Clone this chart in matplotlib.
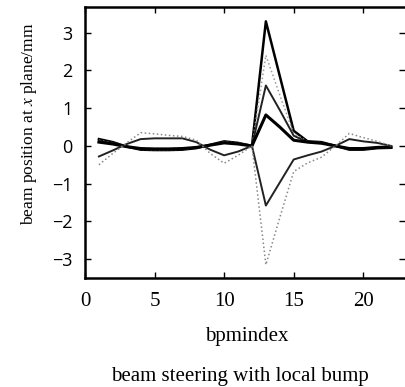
import numpy as np
import matplotlib.pyplot as plt

# bpm index 1..22
bpm = np.arange(1, 23)

# positive bumps at bpm 13
bump_33 = [0.18, 0.10, -0.02, -0.10, -0.11, -0.11, -0.10, -0.06, 0.03, 0.12, 0.08, 0.0,
           3.30, 1.85, 0.40, 0.12, 0.10, 0.0, -0.10, -0.10, -0.06, -0.05]
bump_24 = [0.15, 0.08, -0.02, -0.09, -0.10, -0.10, -0.09, -0.05, 0.03, 0.11, 0.07, 0.0,
           2.40, 1.35, 0.33, 0.11, 0.09, 0.0, -0.09, -0.09, -0.05, -0.04]
bump_16 = [0.13, 0.07, -0.02, -0.08, -0.09, -0.09, -0.08, -0.04, 0.02, 0.10, 0.06, 0.0,
           1.60, 0.95, 0.27, 0.10, 0.08, 0.0, -0.08, -0.08, -0.05, -0.04]
bump_08 = [0.10, 0.05, -0.02, -0.07, -0.08, -0.08, -0.07, -0.04, 0.02, 0.08, 0.05, 0.0,
           0.82, 0.50, 0.15, 0.10, 0.07, 0.0, -0.07, -0.07, -0.04, -0.03]
# negative bumps
bump_m16 = [-0.28, -0.12, 0.05, 0.18, 0.20, 0.20, 0.20, 0.10, -0.10, -0.25, -0.15, 0.0,
            -1.58, -0.97, -0.36, -0.25, -0.15, 0.0, 0.18, 0.12, 0.08, 0.0]
bump_m32 = [-0.50, -0.20, 0.08, 0.35, 0.32, 0.28, 0.25, 0.15, -0.20, -0.46, -0.25, 0.0,
            -3.15, -1.90, -0.68, -0.45, -0.30, 0.0, 0.33, 0.22, 0.12, 0.0]

xticks = [0, 5, 10, 15, 20]
yticks = [-3, -2, -1, 0, 1, 2, 3]

fig = plt.figure(figsize=(4.06, 3.87), dpi=100)
ax = fig.add_axes([85/406, 109/387, 320/406, 271/387])

ax.plot(bpm, bump_33, color='black', lw=1.8)
ax.plot(bpm, bump_24, color='#999999', lw=1.1, ls=':')
ax.plot(bpm, bump_16, color='#222222', lw=1.4)
ax.plot(bpm, bump_08, color='black', lw=2.2)
ax.plot(bpm, bump_m16, color='#222222', lw=1.4)
ax.plot(bpm, bump_m32, color='#888888', lw=1.1, ls=':')

ax.set_xlim(0, 23)
ax.set_ylim(-3.5, 3.68)
ax.set_xticks(xticks)
ax.set_yticks(yticks)
ax.tick_params(direction='in', top=True, right=True, length=4, width=1)
ax.tick_params(axis='x', pad=10)
ax.tick_params(axis='y', pad=9)
for lab in ax.get_xticklabels():
    lab.set_fontfamily('Liberation Serif')
    lab.set_fontsize(15)
for lab in ax.get_yticklabels():
    lab.set_fontfamily('Open Sans')
    lab.set_fontsize(13)

for s in ['left', 'bottom', 'top']:
    ax.spines[s].set_linewidth(1.8)
ax.spines['right'].set_linewidth(0.6)
ax.spines['right'].set_color('#bbbbbb')

fig.text(247/406, 1 - 337/387, 'bpmindex', ha='center', va='center',
         family='Liberation Serif', fontsize=15)
fig.text(240/406, 1 - 376/387, 'beam steering with local bump', ha='center', va='center',
         family='Liberation Serif', fontsize=15)
fig.text(29/406, 1 - 124/387, r'beam position at $x$ plane/mm', ha='center', va='center',
         rotation=90, family='Liberation Serif', fontsize=12.5,
         math_fontfamily='stix')

fig.savefig('out.png', dpi=100)
